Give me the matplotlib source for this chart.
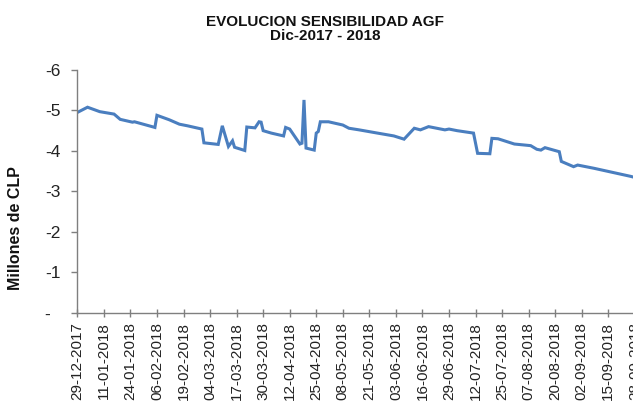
import matplotlib
matplotlib.use("Agg")
import matplotlib.pyplot as plt
import matplotlib.dates as mdates
from matplotlib.ticker import FixedLocator
import datetime as dt

# ---- data ----
dates = ["2017-12-29", "2018-01-03", "2018-01-09", "2018-01-16", "2018-01-19",
         "2018-01-25", "2018-01-26", "2018-02-05", "2018-02-06", "2018-02-12",
         "2018-02-17", "2018-02-21", "2018-02-28", "2018-03-01", "2018-03-08",
         "2018-03-10", "2018-03-13", "2018-03-15", "2018-03-16", "2018-03-21",
         "2018-03-22", "2018-03-26", "2018-03-28", "2018-03-29", "2018-03-30",
         "2018-04-03", "2018-04-09", "2018-04-10", "2018-04-12", "2018-04-17",
         "2018-04-18", "2018-04-19", "2018-04-20", "2018-04-24", "2018-04-25",
         "2018-04-26", "2018-04-27", "2018-05-01", "2018-05-08", "2018-05-11",
         "2018-05-16", "2018-05-25", "2018-06-02", "2018-06-07", "2018-06-12",
         "2018-06-15", "2018-06-19", "2018-06-24", "2018-06-27", "2018-06-29",
         "2018-07-03", "2018-07-11", "2018-07-13", "2018-07-19", "2018-07-20",
         "2018-07-23", "2018-07-31", "2018-08-08", "2018-08-11", "2018-08-13",
         "2018-08-15", "2018-08-22", "2018-08-23", "2018-08-29", "2018-08-31",
         "2018-09-08", "2018-09-26", "2018-09-29"]
values = [-4.95, -5.08, -4.97, -4.91, -4.78,
          -4.71, -4.72, -4.58, -4.88, -4.77,
          -4.66, -4.62, -4.54, -4.20, -4.16,
          -4.62, -4.11, -4.25, -4.09, -4.01,
          -4.59, -4.57, -4.72, -4.71, -4.50,
          -4.44, -4.37, -4.58, -4.54, -4.17,
          -4.19, -5.26, -4.07, -4.02, -4.44,
          -4.48, -4.72, -4.72, -4.64, -4.56,
          -4.52, -4.44, -4.37, -4.29, -4.56,
          -4.52, -4.60, -4.55, -4.52, -4.54,
          -4.50, -4.44, -3.94, -3.93, -4.31,
          -4.30, -4.17, -4.13, -4.04, -4.02,
          -4.08, -3.98, -3.74, -3.61, -3.65,
          -3.57, -3.37, -3.33]

y_ticks = [0, -1, -2, -3, -4, -5, -6]
y_tick_labels = ["-  ", "-1", "-2", "-3", "-4", "-5", "-6"]
x_tick_start = "2017-12-29"
x_tick_step_days = 13
x_tick_count = 22

title_line1 = "EVOLUCION SENSIBILIDAD AGF"
title_line2 = "Dic-2017 - 2018"
y_label = "Millones de CLP"

# ---- figure ----
plt.rcParams['font.family'] = ['Liberation Sans', 'DejaVu Sans']
W, H = 633, 404
fig = plt.figure(figsize=(W / 100, H / 100), dpi=100)

x_dates = [dt.datetime.strptime(d, "%Y-%m-%d") for d in dates]
start = dt.datetime.strptime(x_tick_start, "%Y-%m-%d")
span_days = 290
px_per_day = 26.55 / 13
left_px, axis_px, top_px = 77.3, 312.7, 70.0
ax = fig.add_axes([left_px / W, 1 - axis_px / H,
                   span_days * px_per_day / W, (axis_px - top_px) / H])

ax.plot(x_dates, values, color="#4A7EBF", linewidth=2.2, solid_joinstyle="miter")

ax.set_xlim(start, start + dt.timedelta(days=span_days))
ax.set_ylim(0, -6)

tick_dates = [start + dt.timedelta(days=x_tick_step_days * i) for i in range(x_tick_count)]
ax.xaxis.set_major_locator(FixedLocator(mdates.date2num(tick_dates)))
ax.xaxis.set_major_formatter(mdates.DateFormatter("%d-%m-%Y"))
ax.set_yticks(y_ticks)
ax.set_yticklabels(y_tick_labels)

for s in ["top", "right"]:
    ax.spines[s].set_visible(False)
for s in ["left", "bottom"]:
    ax.spines[s].set_color("#7f7f7f")
    ax.spines[s].set_linewidth(1.0)

ax.tick_params(axis="x", direction="inout", length=6, width=1.0, color="#7f7f7f",
               labelsize=11, labelrotation=90, pad=4, labelcolor="#222222")
ax.tick_params(axis="y", direction="out", length=4, width=1.0, color="#7f7f7f",
               labelsize=12.5, pad=8, labelcolor="#222222")

fig.text(15.7 / W, 1 - 228 / H, y_label, rotation=90, ha="center", va="center",
         fontsize=11.5, fontweight="bold", color="#111111")
fig.text(325 / W, 1 - 26.2 / H, title_line1, ha="center", va="baseline",
         fontsize=11, fontweight="bold", color="#111111")
fig.text(325 / W, 1 - 40.2 / H, title_line2, ha="center", va="baseline",
         fontsize=11, fontweight="bold", color="#111111")

fig.savefig("out.png", dpi=100)
